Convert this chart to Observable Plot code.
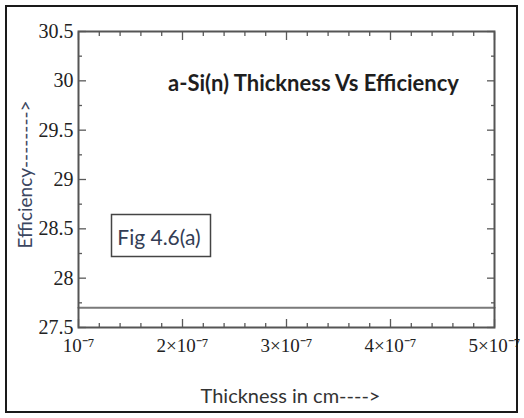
<!DOCTYPE html>
<html>
<head>
<meta charset="utf-8">
<script src="https://cdn.jsdelivr.net/npm/d3@7"></script>
<script src="https://cdn.jsdelivr.net/npm/@observablehq/plot@0.6"></script>
<style>
  html, body { margin: 0; padding: 0; background: #fff; }
  #wrap { position: relative; width: 524px; height: 418px; overflow: hidden; }
  #border { position: absolute; left: 5px; top: 5px; width: 509px; height: 404px; border: 2px solid #1a1a1a; pointer-events: none; }
  #chart { position: absolute; left: 0; top: 0; }
</style>
</head>
<body>
<div id="wrap"><div id="chart"></div><div id="border"></div></div>
<script>
// Data
const thickness = [1e-7, 2e-7, 3e-7, 4e-7, 5e-7];
const efficiency = [27.7, 27.7, 27.7, 27.7, 27.7];

// Tick values and labels
const xMajorTicks = [1e-7, 2e-7, 3e-7, 4e-7, 5e-7];
const xTickLabels = ["10\u207B\u2077", "2\u00D710\u207B\u2077", "3\u00D710\u207B\u2077", "4\u00D710\u207B\u2077", "5\u00D710\u207B\u2077"];
const xMinorTicks = [1.2e-7, 1.4e-7, 1.6e-7, 1.8e-7, 2.2e-7, 2.4e-7, 2.6e-7, 2.8e-7,
                     3.2e-7, 3.4e-7, 3.6e-7, 3.8e-7, 4.2e-7, 4.4e-7, 4.6e-7, 4.8e-7];
const yMajorTicks = [27.5, 28, 28.5, 29, 29.5, 30, 30.5];
const yTickLabels = ["27.5", "28", "28.5", "29", "29.5", "30", "30.5"];
const yMinorTicks = [27.75, 28.25, 28.75, 29.25, 29.75, 30.25];

const titleText = "a-Si(n) Thickness Vs Efficiency";
const figText = "Fig 4.6(a)";
const xLabel = "Thickness in cm---->";
const yLabel = "Efficiency-------->";

const data = thickness.map((t, i) => ({thickness: t, efficiency: efficiency[i]}));

const tickColor = "#5a5a5a";
const serif = "'Liberation Serif', 'Times New Roman', serif";
const sans = "Lato, 'Open Sans', sans-serif";

const plot = Plot.plot({
  width: 524,
  height: 418,
  marginLeft: 78,
  marginRight: 30,
  marginTop: 31,
  marginBottom: 91,
  style: {fontFamily: serif, background: "transparent", overflow: "visible"},
  x: {type: "linear", domain: [1e-7, 5e-7]},
  y: {domain: [27.5, 30.5]},
  marks: [
    // tick labels
    Plot.axisX({ticks: xMajorTicks, tickFormat: d => xTickLabels[xMajorTicks.indexOf(d)], tickSize: 0, tickPadding: 11, label: null, fontSize: 19, fill: "#222", fontFamily: serif}),
    Plot.axisY({ticks: yMajorTicks, tickFormat: d => yTickLabels[yMajorTicks.indexOf(d)], tickSize: 0, tickPadding: 5, label: null, fontSize: 20, fill: "#222", fontFamily: serif}),
    // inward major ticks
    Plot.axisX({anchor: "bottom", ticks: xMajorTicks, tickSize: -8, text: null, label: null, stroke: tickColor, strokeWidth: 1.3}),
    Plot.axisX({anchor: "top", ticks: xMajorTicks, tickSize: -8, text: null, label: null, stroke: tickColor, strokeWidth: 1.3}),
    Plot.axisY({anchor: "left", ticks: yMajorTicks, tickSize: -8, text: null, label: null, stroke: tickColor, strokeWidth: 1.3}),
    Plot.axisY({anchor: "right", ticks: yMajorTicks, tickSize: -8, text: null, label: null, stroke: tickColor, strokeWidth: 1.3}),
    // inward minor ticks
    Plot.axisX({anchor: "bottom", ticks: xMinorTicks, tickSize: -4, text: null, label: null, stroke: tickColor, strokeWidth: 1.3}),
    Plot.axisX({anchor: "top", ticks: xMinorTicks, tickSize: -4, text: null, label: null, stroke: tickColor, strokeWidth: 1.3}),
    Plot.axisY({anchor: "left", ticks: yMinorTicks, tickSize: -4, text: null, label: null, stroke: tickColor, strokeWidth: 1.3}),
    Plot.axisY({anchor: "right", ticks: yMinorTicks, tickSize: -4, text: null, label: null, stroke: tickColor, strokeWidth: 1.3}),
    // data line
    Plot.lineY(data, {x: "thickness", y: "efficiency", stroke: "#7a7a7a", strokeWidth: 2.2}),
    // frame
    Plot.frame({stroke: "#555", strokeWidth: 2}),
    // title
    Plot.text([titleText], {frameAnchor: "top", textAnchor: "middle", lineAnchor: "middle", dx: 27, dy: 52, fontSize: 22, fontWeight: "bold", fontFamily: sans, fill: "#1e1e1e"}),
    // axis labels
    Plot.text([xLabel], {frameAnchor: "bottom", textAnchor: "middle", lineAnchor: "middle", dx: 4, dy: 69, fontSize: 20, fontFamily: sans, fill: "#333"}),
    Plot.text([yLabel], {frameAnchor: "left", textAnchor: "middle", lineAnchor: "middle", rotate: -90, dx: -53, dy: -5, fontSize: 19, fontFamily: sans, fill: "#3b4660"})
  ]
});

document.getElementById("chart").appendChild(plot);

// Annotation box "Fig 4.6(a)" placed relative to the plot frame
const svg = d3.select(plot);
const g = svg.append("g").attr("class", "fig-label");
g.append("rect")
  .attr("x", 111.5).attr("y", 214.5).attr("width", 99).attr("height", 42)
  .attr("fill", "#fff").attr("stroke", "#444").attr("stroke-width", 1.5);
g.append("text")
  .attr("x", 159).attr("y", 236).attr("text-anchor", "middle").attr("dominant-baseline", "central")
  .attr("font-family", sans).attr("font-size", 21).attr("fill", "#333d55")
  .text(figText);
</script>
</body>
</html>
